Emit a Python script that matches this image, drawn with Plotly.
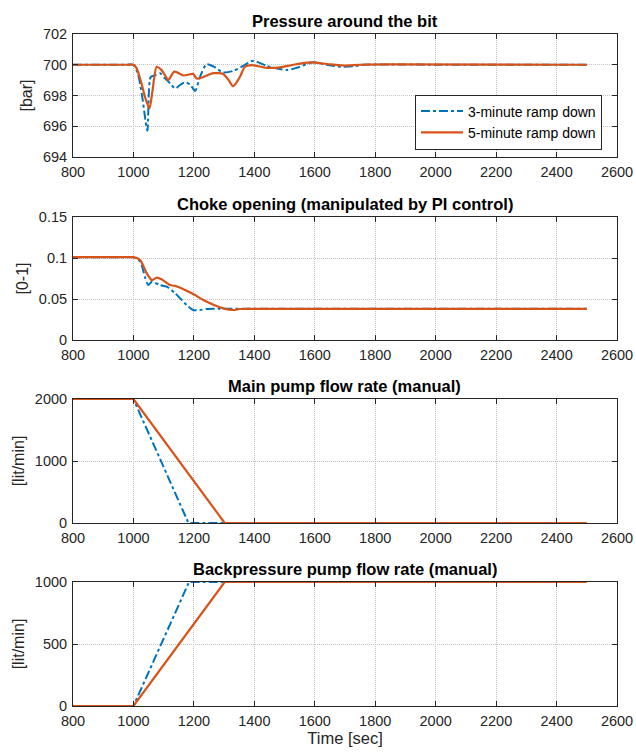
import plotly.graph_objects as go

# ---------------- data ----------------
time_ticks = [800, 1000, 1200, 1400, 1600, 1800, 2000, 2200, 2400, 2600]

# Pressure around the bit [bar]
p3_t = [800, 980, 1000, 1015, 1030, 1046, 1057, 1070, 1088, 1105, 1121, 1138, 1155, 1171, 1188,
        1204, 1220, 1242, 1264, 1297, 1330, 1363, 1391, 1408, 1441, 1507, 1540, 1595, 1640,
        1683, 1727, 1760, 1850, 2000, 2500]
p3_v = [700, 700, 700, 699.4, 697.8, 695.7, 699.2, 699.3, 699.45, 699.1, 698.8, 698.45, 698.7,
        698.85, 698.7, 698.3, 699.2, 700.03, 699.9, 699.5, 699.6, 699.92, 700.24, 700.2,
        699.92, 699.66, 699.8, 700.16, 700.0, 699.87, 699.9, 700.0, 700.02, 700.0, 700.0]
p5_t = [800, 980, 1000, 1010, 1025, 1040, 1053, 1063, 1077, 1093, 1105, 1115, 1135, 1150, 1165,
        1198, 1209, 1231, 1264, 1297, 1315, 1330, 1352, 1369, 1391, 1441, 1485, 1529, 1584,
        1640, 1694, 1750, 1850, 2500]
p5_v = [700, 700, 700, 699.8, 698.9, 697.8, 697.17, 698.3, 699.87, 699.65, 699.3, 699.0, 699.55,
        699.45, 699.3, 699.4, 699.1, 699.2, 699.45, 699.4, 699.0, 698.6, 699.2, 699.87,
        699.98, 699.8, 699.83, 700.0, 700.15, 700.05, 699.95, 700.0, 700.02, 700.0]

# Choke opening [0-1]
c3_t = [800, 980, 1000, 1022, 1038, 1049, 1061, 1088, 1110, 1138, 1176, 1198, 1220, 1242, 1286, 1400, 2500]
c3_v = [0.101, 0.101, 0.101, 0.096, 0.077, 0.067, 0.071, 0.067, 0.065, 0.057, 0.0427, 0.0366,
        0.0366, 0.0378, 0.038, 0.038, 0.038]
c5_t = [800, 980, 1000, 1022, 1044, 1061, 1077, 1093, 1121, 1138, 1198, 1231, 1297, 1330, 1352, 1400, 2500]
c5_v = [0.101, 0.101, 0.101, 0.0976, 0.0813, 0.073, 0.076, 0.074, 0.067, 0.066, 0.056, 0.0488,
        0.0386, 0.0366, 0.0378, 0.038, 0.038]

# Main pump flow rate [lit/min]
m3_t = [800, 1000, 1182, 2500]
m3_v = [2000, 2000, 0, 0]
m5_t = [800, 1000, 1302, 2500]
m5_v = [2000, 2000, 0, 0]

# Backpressure pump flow rate [lit/min]
b3_t = [800, 1000, 1184, 2500]
b3_v = [0, 0, 1000, 1000]
b5_t = [800, 1000, 1302, 2500]
b5_v = [0, 0, 1000, 1000]

names = ["3-minute ramp down", "5-minute ramp down"]
titles = ["Pressure around the bit", "Choke opening (manipulated by PI control)",
          "Main pump flow rate (manual)", "Backpressure pump flow rate (manual)"]
ylabels = ["[bar]", "[0-1]", "[lit/min]", "[lit/min]"]
yranges = [[694, 702], [0, 0.15], [0, 2000], [0, 1000]]
ytickvals = [[694, 696, 698, 700, 702], [0, 0.05, 0.1, 0.15], [0, 1000, 2000], [0, 500, 1000]]
yticktext = [["694", "696", "698", "700", "702"], ["0", "0.05", "0.1", "0.15"],
             ["0", "1000", "2000"], ["0", "500", "1000"]]

# ---------------- figure ----------------
W, H = 636, 753
BLUE = "#0072BD"
ORANGE = "#D95319"
FONT = "Liberation Sans, Arial, Helvetica, sans-serif"
TXT = "#262626"

px_top = [34, 217, 399, 582]
px_bot = [157, 340, 523, 706]
x0, x1 = 73 / W, 617 / W

fig = go.Figure()

series = [
    (p3_t, p3_v, p5_t, p5_v, "spline"),
    (c3_t, c3_v, c5_t, c5_v, "spline"),
    (m3_t, m3_v, m5_t, m5_v, "linear"),
    (b3_t, b3_v, b5_t, b5_v, "linear"),
]

for i, (t3, v3, t5, v5, shape) in enumerate(series):
    k = "" if i == 0 else str(i + 1)
    fig.add_trace(go.Scatter(x=t3, y=v3, mode="lines", name=names[0],
                             line=dict(color=BLUE, width=2, dash="dashdot", shape=shape, smoothing=0.7),
                             xaxis="x" + k, yaxis="y" + k, showlegend=(i == 0)))
    fig.add_trace(go.Scatter(x=t5, y=v5, mode="lines", name=names[1],
                             line=dict(color=ORANGE, width=2.2, shape=shape, smoothing=0.7),
                             xaxis="x" + k, yaxis="y" + k, showlegend=(i == 0)))

axis_common = dict(showline=True, linecolor=TXT, linewidth=1, mirror="ticks",
                   ticks="inside", ticklen=5, tickcolor=TXT, tickwidth=1,
                   showgrid=True, gridcolor="#c2c2c2", griddash="1px,1px", gridwidth=1,
                   zeroline=False, automargin=False,
                   tickfont=dict(family=FONT, size=14.5, color=TXT))

layout = {}
for i in range(4):
    k = "" if i == 0 else str(i + 1)
    ydom = [1 - px_bot[i] / H, 1 - px_top[i] / H]
    xa = dict(axis_common, domain=[x0, x1], range=[800, 2600], tickvals=time_ticks,
              anchor="y" + k, ticklabelstandoff=2)
    if i == 3:
        xa["title"] = dict(text="Time [sec]", font=dict(family=FONT, size=16.5, color=TXT), standoff=2)
    ya = dict(axis_common, domain=ydom, range=yranges[i], tickvals=ytickvals[i],
              ticktext=yticktext[i], anchor="x" + k, ticklabelstandoff=2,
              title=dict(text=ylabels[i], font=dict(family=FONT, size=16, color=TXT), standoff=6))
    layout["xaxis" + k] = xa
    layout["yaxis" + k] = ya

annotations = []
for i in range(4):
    annotations.append(dict(text="<b>" + titles[i] + "</b>", xref="paper", yref="paper",
                            x=(x0 + x1) / 2, y=1 - px_top[i] / H, xanchor="center", yanchor="middle",
                            yshift=13, showarrow=False,
                            font=dict(family=FONT, size=16.5, color="#000000")))

fig.update_layout(**layout)
fig.update_layout(
    width=W, height=H, margin=dict(l=0, r=0, t=0, b=0),
    paper_bgcolor="white", plot_bgcolor="white",
    annotations=annotations,
    legend=dict(x=602 / W, y=1 - 122 / H, xanchor="right", yanchor="middle",
                bgcolor="white", bordercolor=TXT, borderwidth=1,
                font=dict(family=FONT, size=14, color="#000000"),
                tracegroupgap=0, itemwidth=42),
    font=dict(family=FONT),
)

fig.write_html("out.html")
